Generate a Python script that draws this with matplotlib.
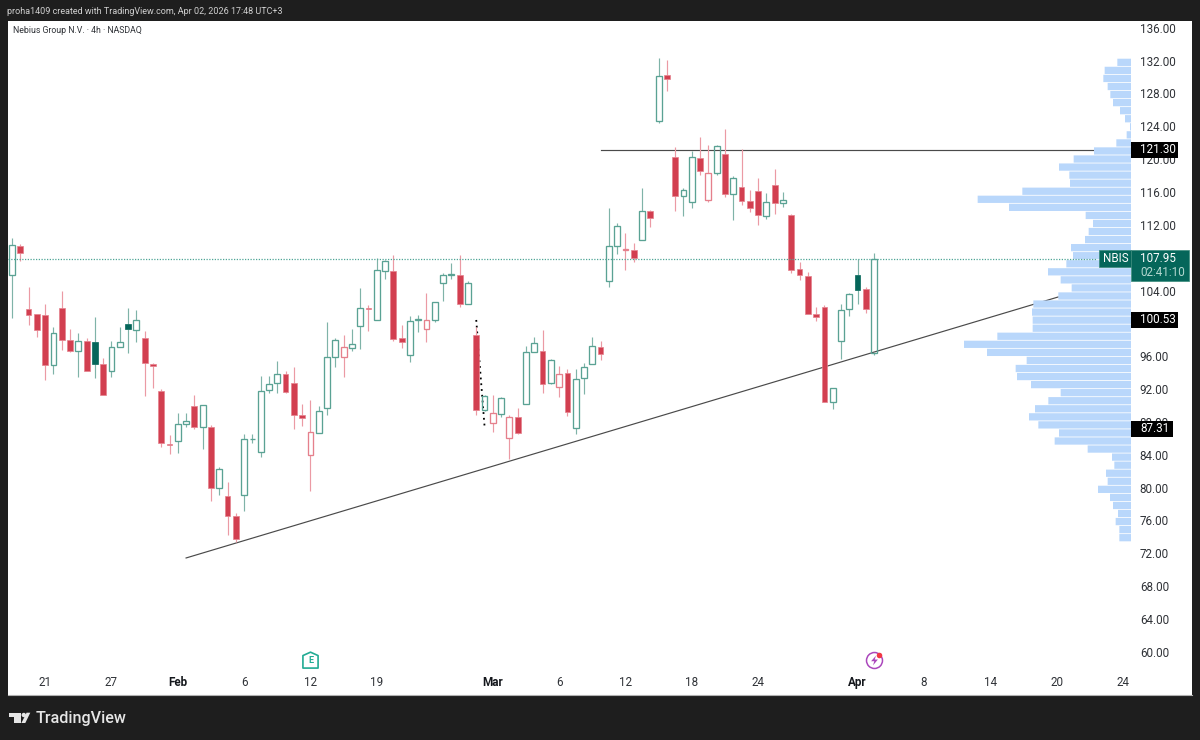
# -*- coding: utf-8 -*-
"""Nebius 4h chart, candles with a volume profile on the right"""

import numpy as np
import matplotlib.pyplot as plt
from matplotlib.patches import Ellipse, Polygon, Rectangle
from matplotlib.path import Path
from matplotlib.transforms import ScaledTranslation

plt.rcParams['font.family'] = ['Roboto', 'DejaVu Sans']

opens = [106.07, 109.57, 101.86, 101.25, 101.13, 95.04, 102.02, 98.08, 96.74, 98.03,
         97.84, 95.23, 94.38, 97.27, 100.07, 99.30, 98.36, 95.23, 91.87, 85.49,
         85.85, 87.85, 90.08, 87.56, 87.56, 80.13, 79.15, 76.72, 79.24, 86.02,
         84.51, 91.99, 92.92, 94.00, 92.92, 88.98, 84.15, 86.83, 89.87, 96.05,
         96.01, 97.18, 99.79, 102.02, 100.52, 106.49, 106.52, 98.40, 96.29, 100.52,
         99.42, 100.59, 105.06, 106.07, 106.07, 102.47, 98.73, 89.59, 87.97, 89.14,
         86.18, 88.70, 90.36, 96.66, 96.74, 92.84, 92.36, 94.06, 87.36, 93.45,
         95.23, 97.27, 105.27, 109.53, 109.04, 109.08, 110.26, 113.83, 124.83, 130.36,
         120.44, 115.62, 114.89, 120.29, 115.17, 118.50, 120.74, 115.90, 116.79, 115.08,
         116.23, 113.26, 116.96, 114.84, 113.31, 106.77, 105.88, 101.32, 102.14, 90.57,
         98.00, 101.86, 106.00, 104.29, 96.50]
highs = [110.51, 109.81, 104.54, 101.28, 102.50, 99.74, 104.05, 99.42, 98.93, 98.40,
         100.96, 95.89, 98.03, 99.67, 101.98, 101.77, 99.25, 95.28, 92.11, 86.55,
         89.26, 89.26, 91.42, 90.16, 87.76, 82.69, 80.86, 77.08, 86.63, 86.63,
         93.73, 93.73, 95.60, 94.38, 94.83, 90.29, 90.81, 90.08, 100.35, 98.40,
         98.73, 99.42, 104.45, 102.38, 108.07, 107.86, 108.47, 99.98, 101.04, 101.20,
         103.81, 102.71, 106.24, 107.50, 108.47, 105.34, 99.67, 91.42, 91.42, 91.21,
         88.98, 89.87, 97.39, 98.52, 99.34, 95.77, 94.95, 94.55, 94.55, 95.28,
         98.45, 97.96, 114.16, 112.41, 111.11, 109.93, 116.63, 113.92, 132.43, 132.22,
         121.59, 116.60, 121.10, 122.88, 121.83, 121.83, 123.78, 118.13, 121.35, 116.42,
         117.89, 115.99, 118.91, 116.18, 113.43, 107.62, 106.40, 102.10, 102.34, 92.31,
         102.50, 103.88, 107.98, 104.54, 108.75]
lows = [100.83, 107.78, 99.98, 98.45, 93.25, 93.98, 96.90, 96.62, 93.61, 94.38,
        93.53, 91.46, 93.61, 97.27, 96.57, 97.91, 91.30, 92.23, 85.12, 84.23,
        84.32, 87.56, 87.24, 84.84, 78.51, 79.28, 74.37, 73.55, 77.25, 85.54,
        83.90, 91.63, 91.70, 91.72, 87.24, 87.64, 79.73, 86.83, 88.95, 94.87,
        93.65, 96.82, 96.99, 99.25, 100.52, 105.51, 98.03, 97.18, 95.40, 99.13,
        97.91, 100.35, 102.90, 105.58, 102.10, 102.47, 88.95, 89.51, 86.91, 88.78,
        83.62, 86.67, 90.36, 96.66, 91.70, 92.76, 91.21, 88.90, 86.63, 91.54,
        95.19, 95.68, 104.61, 108.63, 106.64, 107.66, 110.26, 111.85, 124.59, 128.48,
        113.79, 113.26, 114.16, 118.18, 114.89, 118.21, 115.50, 112.73, 114.60, 113.71,
        112.09, 112.86, 113.43, 114.32, 106.22, 105.46, 101.28, 100.40, 90.57, 89.71,
        95.84, 101.04, 102.50, 101.44, 96.29]
closes = [109.65, 108.75, 101.13, 99.34, 95.04, 99.01, 98.15, 96.82, 98.03, 94.38,
          95.23, 91.46, 97.30, 97.91, 99.42, 100.52, 95.28, 94.95, 85.61, 85.29,
          87.85, 88.22, 87.56, 90.16, 80.13, 82.37, 76.72, 73.84, 86.02, 86.10,
          91.94, 92.82, 93.94, 91.82, 88.98, 88.58, 86.95, 89.43, 96.05, 98.08,
          97.23, 97.67, 102.02, 101.93, 106.61, 107.70, 98.24, 97.91, 100.43, 100.62,
          100.57, 102.71, 106.07, 106.16, 102.47, 105.02, 89.59, 91.30, 89.19, 91.02,
          88.70, 86.83, 96.66, 97.72, 92.76, 95.68, 93.98, 89.31, 93.33, 94.87,
          97.39, 96.38, 109.53, 112.04, 109.17, 108.07, 113.83, 113.01, 130.27, 129.91,
          115.66, 116.35, 120.37, 118.67, 118.50, 121.71, 115.90, 117.85, 115.08, 114.20,
          113.38, 114.89, 114.80, 115.17, 106.64, 106.03, 101.28, 100.92, 90.57, 92.31,
          101.77, 103.72, 104.25, 101.93, 107.95]

# volume profile rows, top row first
profile_volumes = [41, 79, 83, 70, 62, 54, 33, 18, 3, 13, 44, 111, 172, 216, 185,
                   183, 326, 460, 366, 136, 114, 127, 138, 180, 174, 194, 249, 211, 178, 218,
                   293, 297, 295, 295, 401, 501, 432, 313, 346, 342, 300, 211, 248, 288, 306,
                   278, 216, 229, 130, 57, 50, 75, 70, 99, 63, 54, 39, 46, 35, 35]

# 100 and 108 sit fully behind the price boxes
price_ticks = [60, 64, 68, 72, 76, 80, 84, 88, 92, 96, 104, 112, 116, 120, 124, 128, 132, 136]
time_positions = [4, 12, 20, 28, 36, 44, 58, 66, 74, 82, 90, 102, 110, 118, 126, 134]
time_labels = ['21', '27', 'Feb', '6', '12', '19', 'Mar', '6', '12', '18', '24',
               'Apr', '8', '14', '20', '24']
month_labels = ['Feb', 'Mar', 'Apr']

last_price = 107.95
resistance = 121.30
resistance_start = 71
level_labels = [121.30, 100.53, 87.31]
trend_x = [21, 126.2]
trend_y = [71.57, 103.36]
dotted_x = [56, 57]
dotted_y = [100.56, 87.64]
earnings_bar = 36
dividend_bar = 104
event_price = 59.14

BG = '#1e1e1e'
TEXT = '#2f3237'
GREEN = '#5aa294'
GREEN_SOLID = '#05665a'
GREEN_WICK = '#7fb3a8'
RED = '#d23f50'
RED_EDGE = '#e5808c'
RED_WICK = '#eb9aa4'
PROFILE = '#b9d7fb'
LINE = '#4a4a4a'


def px(x, y):
    # figure fraction from screen pixels, only for the frame furniture
    return x / 1200.0, 1 - y / 740.0


def draw_candles(ax):
    width = 0.70
    for i in range(len(opens)):
        o, h, l, c = opens[i], highs[i], lows[i], closes[i]
        up = i == 0 or c >= closes[i - 1]
        hollow = c > o
        top, bot = max(o, c), min(o, c)
        ax.vlines(i, top, h, color=GREEN_WICK if up else RED_WICK, lw=0.85, zorder=3)
        ax.vlines(i, l, bot, color=GREEN_WICK if up else RED_WICK, lw=0.85, zorder=3)
        if hollow:
            edge = GREEN if up else RED_EDGE
            ax.bar(i, top - bot, bottom=bot, width=width, facecolor='none',
                   edgecolor=edge, linewidth=0.95, zorder=4)
        elif up:
            ax.bar(i, top - bot, bottom=bot, width=width, facecolor=GREEN_SOLID,
                   edgecolor=GREEN_SOLID, linewidth=0.5, zorder=4)
        else:
            ax.bar(i, top - bot, bottom=bot, width=width, facecolor=RED,
                   edgecolor=RED_EDGE, linewidth=0.5, zorder=4)


def draw_events(ax):
    house = Path([(-1, -1), (1, -1), (1, 0.65), (0, 1.1), (-1, 0.65), (-1, -1)], closed=True)
    bolt = Path([(0.3, 1), (-0.7, -0.15), (-0.05, -0.15), (-0.3, -1), (0.7, 0.2),
                 (0.05, 0.2), (0.3, 1)], closed=True)
    ax.plot(earnings_bar, event_price, marker=house, ms=12, mfc='white', mec='#22ab94',
            mew=1.2, zorder=6)
    ax.text(earnings_bar, event_price, 'E', color='#22ab94', fontsize=6.5, fontweight='bold',
            ha='center', va='center', zorder=7)
    ax.plot(dividend_bar, event_price, marker='o', ms=11.5, mfc='white', mec='#ab47bc',
            mew=1.1, zorder=6)
    ax.plot(dividend_bar, event_price, marker=bolt, ms=7, mfc='#ab47bc', mec='none', zorder=7)
    ax.plot(dividend_bar + 0.62, event_price + 0.62, marker='o', ms=4, mfc='#f23645',
            mec='none', zorder=8)


def draw_frame(fig):
    fig.text(*px(7, 11), 'proha1409 created with TradingView.com, Apr 02, 2026 17:48 UTC+3',
             color='#d0d0d0', fontsize=6.45, va='center', ha='left')
    fig.text(*px(36, 718.5), 'TradingView', color='#e6e6e6', fontsize=11.6, fontweight='medium',
             va='center', ha='left')
    logo = [[(9, 712.7), (20.7, 712.7), (20.7, 723), (14, 723), (14, 717.3), (9, 717.3)],
            [(26.6, 712.7), (30.3, 712.7), (25.3, 723), (21.4, 723)]]
    for shape in logo:
        fig.add_artist(Polygon([px(*p) for p in shape], closed=True, facecolor='#e6e6e6',
                               edgecolor='none', transform=fig.transFigure))
    dot = Ellipse(px(23.8, 715), 4.4 / 1200.0, 4.4 / 740.0, facecolor='#e6e6e6',
                  edgecolor='none', transform=fig.transFigure)
    fig.add_artist(dot)


def draw_profile(ax2):
    bins = np.linspace(min(lows), max(highs), len(profile_volumes) + 1)
    centers = (bins[:-1] + bins[1:]) / 2
    # snap off so every row gets the same soft gap
    bars = ax2.barh(centers, profile_volumes[::-1], height=(bins[1] - bins[0]) * 0.9,
                    color=PROFILE, zorder=2)
    for bar in bars:
        bar.set_snap(False)


def draw_price_labels(ax2):
    box_ends = {121.30: -141, 100.53: -141, 87.31: -125}
    for level in level_labels:
        ax2.add_patch(Rectangle((box_ends[level], level - 0.97), -box_ends[level], 1.95,
                                facecolor='black', edgecolor='none', zorder=5))
        ax2.text(-27, level + 0.06, '%.2f' % level, color='white', fontsize=8.4, ha='left',
                 va='center', zorder=6)

    # last price box and symbol tag
    ax2.axhline(last_price, xmin=0, xmax=0.92, color='#4fa596', lw=0.9, ls=(0, (1, 1.2)), zorder=3)
    ax2.add_patch(Rectangle((-174, last_price - 2.61), 174, 3.70, facecolor=GREEN_SOLID,
                            edgecolor='#3a8a7b', lw=0.5, zorder=5))
    ax2.add_patch(Rectangle((0, last_price - 0.98), 95, 2.07, facecolor=GREEN_SOLID,
                            edgecolor='#3a8a7b', lw=0.5, zorder=5))
    ax2.text(47, last_price + 0.08, 'NBIS', color='white', fontsize=8.4, ha='center',
             va='center', zorder=6)
    ax2.text(-27, last_price + 0.06, '%.2f' % last_price, color='white', fontsize=8.4,
             ha='left', va='center', zorder=6)
    ax2.text(-27, last_price - 1.66, '02:41:10', color='#b4d8d0', fontsize=8.4, ha='left',
             va='center', zorder=6)


def main():
    fig = plt.figure(figsize=(12, 7.4), dpi=100, facecolor=BG)
    ax = fig.add_axes([7.5 / 1200, 45 / 740.0, 1184.5 / 1200, 674 / 740.0], facecolor='white')
    ax.set_xlim((7.5 - 12) / 8.29, (1192 - 12) / 8.29)
    ax.set_ylim(136 - 666 / 8.21, 136 + 8 / 8.21)

    for name in ['top', 'left', 'right']:
        ax.spines[name].set_visible(False)
    ax.spines['bottom'].set_color('#b0b0b0')
    ax.spines['bottom'].set_linewidth(0.8)

    ax.yaxis.tick_right()
    ax.set_yticks(price_ticks)
    ax.set_yticklabels(['%.2f' % p for p in price_ticks], color=TEXT, fontsize=8.4)
    ax.tick_params(axis='y', length=0, pad=-37.6)
    nudge = ScaledTranslation(0, 1.2 / 100.0, fig.dpi_scale_trans)
    for label in ax.get_yticklabels():
        label.set_transform(label.get_transform() + nudge)
    ax.set_xticks(time_positions)
    ax.set_xticklabels(time_labels, color=TEXT, fontsize=8.4)
    ax.tick_params(axis='x', length=0, pad=-13.4)
    for label in ax.get_xticklabels():
        if label.get_text() in month_labels:
            label.set_fontweight('bold')
            label.set_color('#14171c')

    ax.plot(trend_x, trend_y, color=LINE, lw=0.85, zorder=2)
    ax.plot([resistance_start, 135], [resistance, resistance], color=LINE, lw=0.85, zorder=2)
    ax.plot(dotted_x, dotted_y, color='black', lw=1.3, ls=(0, (1, 2.2)), zorder=2)
    draw_candles(ax)
    draw_events(ax)
    ax.text(0.0046, 0.9853, 'Nebius Group N.V. · 4h · NASDAQ', transform=ax.transAxes,
            color=TEXT, fontsize=6.35, ha='left', va='center', zorder=6)

    # second x axis for the profile: 0 at the bar base, growing to the left
    ax2 = ax.twiny()
    ax2.set_xlim((1131 - 7.5) * 3, (1131 - 1192) * 3)
    ax2.axis('off')
    draw_profile(ax2)
    draw_price_labels(ax2)

    draw_frame(fig)
    fig.savefig('out.png', dpi=100, facecolor=BG)


if __name__ == "__main__":
    main()
